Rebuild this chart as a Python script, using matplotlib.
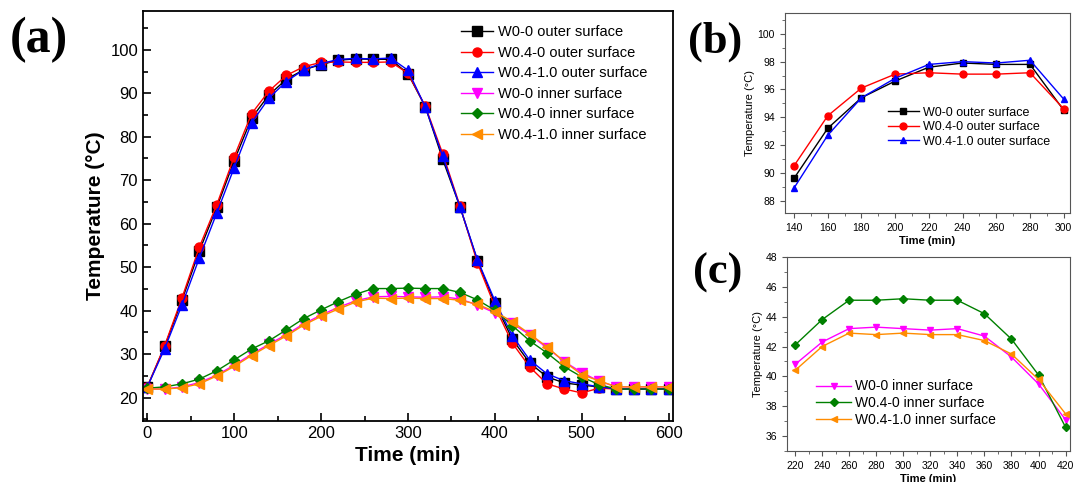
import matplotlib.pyplot as plt
from matplotlib.ticker import MultipleLocator

plt.rcParams['font.family'] = ['Liberation Sans', 'DejaVu Sans']

# time axis (min)
t = list(range(0, 601, 20))

# outer surface temperatures
w00_out = [22.5, 31.8, 42.5, 53.8, 63.8, 74.5, 84.3, 89.6, 93.2, 95.4, 96.6, 97.6,
           97.9, 97.8, 97.8, 94.5, 86.9, 74.8, 63.8, 51.5, 41.8, 33.5, 28.0, 24.8,
           23.4, 22.9, 22.5, 22.0, 22.0, 22.0, 22.0]
w040_out = [22.5, 32.0, 43.0, 54.7, 64.4, 75.4, 85.3, 90.5, 94.1, 96.1, 97.1, 97.2,
            97.1, 97.1, 97.2, 94.6, 87.0, 76.1, 64.0, 51.0, 41.0, 32.6, 27.1, 23.2,
            22.0, 21.1, 22.2, 22.0, 22.0, 22.0, 22.0]
w0410_out = [22.5, 31.3, 41.4, 52.2, 62.5, 72.9, 83.2, 88.9, 92.7, 95.4, 96.8, 97.8,
             98.0, 97.9, 98.1, 95.3, 86.8, 75.5, 63.8, 51.7, 42.3, 34.3, 28.7, 25.5,
             23.9, 23.2, 22.5, 22.0, 22.0, 22.0, 22.0]

# inner surface temperatures
w00_in = [22.0, 22.0, 22.5, 23.5, 25.2, 27.5, 30.0, 32.3, 34.5, 37.0, 39.0, 40.8,
          42.3, 43.2, 43.3, 43.2, 43.1, 43.2, 42.7, 41.3, 39.5, 37.1, 34.5, 31.5,
          28.3, 25.8, 23.8, 22.5, 22.5, 22.5, 22.5]
w040_in = [22.2, 22.5, 23.2, 24.3, 26.2, 28.7, 31.2, 33.1, 35.6, 38.2, 40.2, 42.1,
           43.8, 45.1, 45.1, 45.2, 45.1, 45.1, 44.2, 42.5, 40.1, 36.6, 33.1, 30.3,
           27.1, 24.8, 23.0, 22.0, 22.0, 22.0, 22.0]
w0410_in = [22.0, 22.0, 22.3, 23.2, 25.0, 27.2, 29.7, 32.0, 34.2, 36.7, 38.7, 40.4,
            42.0, 42.9, 42.8, 42.9, 42.8, 42.8, 42.4, 41.5, 39.8, 37.5, 34.7, 31.7,
            28.3, 25.3, 23.9, 22.5, 22.5, 22.5, 22.5]

labels_out = ["W0-0 outer surface", "W0.4-0 outer surface", "W0.4-1.0 outer surface"]
labels_in = ["W0-0 inner surface", "W0.4-0 inner surface", "W0.4-1.0 inner surface"]
cols_out = ['black', 'red', 'blue']
cols_in = ['magenta', 'green', 'darkorange']
mk_out = ['s', 'o', '^']
mk_in = ['v', 'D', '<']

series_out = [w00_out, w040_out, w0410_out]
series_in = [w00_in, w040_in, w0410_in]

fig = plt.figure(figsize=(10.75, 4.82), dpi=100)

# ---- panel (a)
ax = fig.add_axes([0.133, 0.127, 0.493, 0.851])
for y, c, m, lab in zip(series_out, cols_out, mk_out, labels_out):
    ax.plot(t, y, color=c, marker=m, markersize=6.5, linewidth=1, label=lab)
for y, c, m, lab in zip(series_in, cols_in, mk_in, labels_in):
    ms = 5.5 if m == 'D' else 6.5
    ax.plot(t, y, color=c, marker=m, markersize=ms, linewidth=1, label=lab)
ax.set_xlim(-5, 605)
ax.set_ylim(14.7, 109)
ax.set_xticks([0, 100, 200, 300, 400, 500, 600])
ax.set_yticks([20, 30, 40, 50, 60, 70, 80, 90, 100])
ax.xaxis.set_minor_locator(MultipleLocator(50))
ax.yaxis.set_minor_locator(MultipleLocator(5))
ax.tick_params(which='both', direction='in', labelsize=12, width=1.2)
ax.tick_params(which='major', length=6)
ax.tick_params(which='minor', length=3.5)
for s in ax.spines.values():
    s.set_linewidth(1.3)
ax.set_xlabel("Time (min)", fontsize=15, fontweight='bold')
ax.set_ylabel("Temperature (°C)", fontsize=15, fontweight='bold')
ax.legend(loc='upper right', bbox_to_anchor=(0.979, 1.0), frameon=False, fontsize=10.5,
          handlelength=2.2, labelspacing=0.45, borderaxespad=0.6, handletextpad=0.3)
fig.text(0.009, 0.965, "(a)", fontsize=36, fontweight='bold', family='Liberation Serif', va='top')

# ---- panel (b): zoom of outer surface, 140-300 min
idx_b = [i for i, v in enumerate(t) if 140 <= v <= 300]
axb = fig.add_axes([0.730, 0.558, 0.265, 0.415])
for y, c, m, lab in zip(series_out, cols_out, mk_out, labels_out):
    axb.plot([t[i] for i in idx_b], [y[i] for i in idx_b], color=c, marker=m,
             markersize=5, linewidth=1, label=lab)
axb.set_xlim(134.5, 303.5)
axb.set_ylim(87.1, 101.5)
axb.set_xticks(range(140, 301, 20))
axb.set_yticks(range(88, 101, 2))
axb.xaxis.set_minor_locator(MultipleLocator(10))
axb.yaxis.set_minor_locator(MultipleLocator(1))
axb.tick_params(which='both', direction='out', labelsize=7.5, color='#555555')
axb.tick_params(which='minor', length=2)
for s in axb.spines.values():
    s.set_color('#555555')
axb.set_xlabel("Time (min)", fontsize=8, fontweight='bold', labelpad=2)
axb.set_ylabel("Temperature (°C)", fontsize=8, labelpad=2)
axb.legend(loc='lower right', bbox_to_anchor=(0.97, 0.27), frameon=False, fontsize=9,
           handlelength=2.5, labelspacing=0.2, handletextpad=0.3)
fig.text(0.640, 0.955, "(b)", fontsize=32, fontweight='bold', family='Liberation Serif', va='top')

# ---- panel (c): zoom of inner surface, 220-420 min
idx_c = [i for i, v in enumerate(t) if 220 <= v <= 420]
axc = fig.add_axes([0.732, 0.064, 0.263, 0.403])
for y, c, m, lab in zip(series_in, cols_in, mk_in, labels_in):
    ms = 4 if m == 'D' else 5
    axc.plot([t[i] for i in idx_c], [y[i] for i in idx_c], color=c, marker=m,
             markersize=ms, linewidth=1, label=lab)
axc.set_xlim(214, 423)
axc.set_ylim(35, 48)
axc.set_xticks(range(220, 421, 20))
axc.set_yticks(range(36, 49, 2))
axc.xaxis.set_minor_locator(MultipleLocator(10))
axc.yaxis.set_minor_locator(MultipleLocator(1))
axc.tick_params(which='both', direction='out', labelsize=7.5, color='#555555')
axc.tick_params(which='minor', length=2)
for s in axc.spines.values():
    s.set_color('#555555')
axc.set_xlabel("Time (min)", fontsize=8, fontweight='bold', labelpad=2)
axc.set_ylabel("Temperature (°C)", fontsize=8, labelpad=2)
axc.legend(loc='lower left', bbox_to_anchor=(0.06, 0.06), frameon=False, fontsize=10,
           handlelength=2.5, labelspacing=0.2, handletextpad=0.3)
fig.text(0.645, 0.475, "(c)", fontsize=32, fontweight='bold', family='Liberation Serif', va='top')

fig.savefig("out.png", dpi=100)
